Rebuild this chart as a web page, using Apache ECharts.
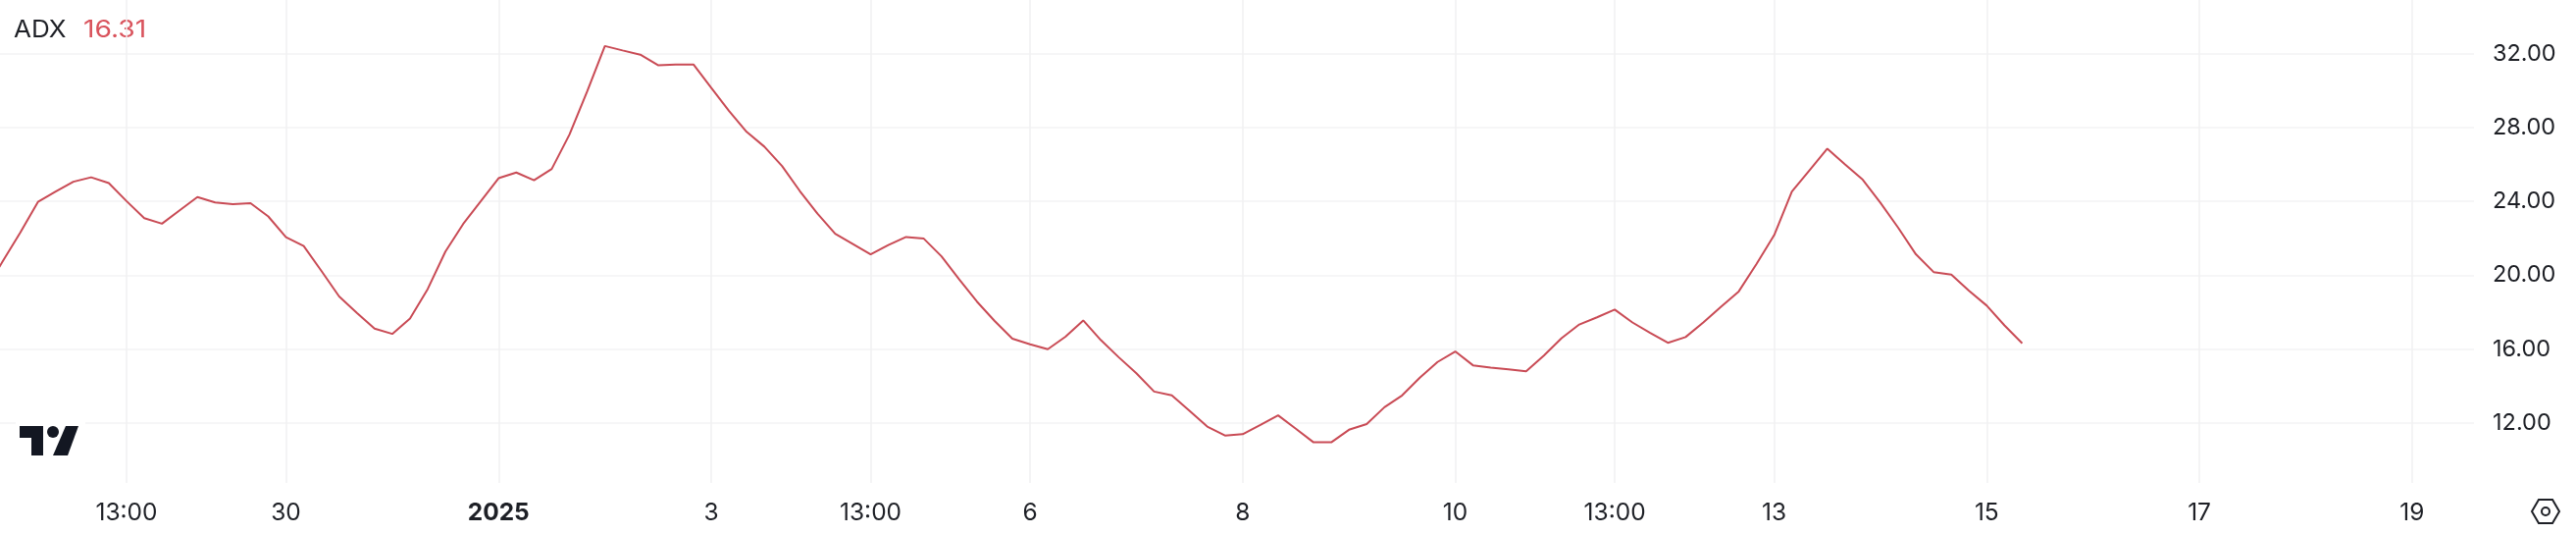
<!DOCTYPE html>
<html>
<head>
<meta charset="utf-8">
<style>html,body{margin:0;padding:0;background:#fff}#c{width:2626px;height:544px}</style>
<script src="https://cdn.jsdelivr.net/npm/echarts@6/dist/echarts.min.js"></script>
</head>
<body>
<div id="c"></div>
<script>
const adxValues = [19.16,20.73,22.30,23.97,24.53,25.06,25.30,24.99,24.01,23.09,22.79,23.51,24.23,23.94,23.85,23.90,23.18,22.06,21.58,20.23,18.85,17.96,17.11,16.82,17.65,19.25,21.28,22.77,24.01,25.25,25.56,25.14,25.75,27.61,29.95,32.41,32.17,31.94,31.37,31.41,31.41,30.15,28.90,27.76,26.96,25.91,24.56,23.33,22.24,21.69,21.13,21.63,22.07,21.98,21.02,19.77,18.57,17.52,16.56,16.26,15.99,16.67,17.55,16.48,15.56,14.69,13.70,13.49,12.66,11.80,11.32,11.39,11.89,12.41,11.69,10.95,10.95,11.63,11.94,12.85,13.49,14.45,15.30,15.87,15.12,14.99,14.90,14.79,15.65,16.59,17.33,17.72,18.14,17.44,16.87,16.34,16.65,17.44,18.29,19.12,20.60,22.17,24.53,25.69,26.85,26.00,25.17,23.92,22.57,21.13,20.17,20.03,19.16,18.35,17.28,16.31];
const timeTickIndex = [8,17,29,41,50,59,71,83,92,101,113,125,137];
const timeTickLabels = ['13:00','30','2025','3','13:00','6','8','10','13:00','13','15','17','19'];
const priceTicks = [12,16,20,24,28,32];
const seriesName = 'ADX';
const lastValue = '16.31';

const chart = echarts.init(document.getElementById('c'), null, {renderer:'canvas'});
const font = 'Inter, "Liberation Sans", sans-serif';
const ink = '#1e2026';
chart.setOption({
  animation:false,
  backgroundColor:'#ffffff',
  grid:{left:0,top:0,width:2522,height:492,containLabel:false},
  xAxis:{
    type:'value',min:0.858,max:140.5,
    axisLine:{show:false},
    axisTick:{show:false,customValues:timeTickIndex},
    splitLine:{show:true,lineStyle:{color:'#f0f0f2',width:1.5}},
    axisLabel:{
      customValues:timeTickIndex,margin:18,fontFamily:font,fontSize:24.5,color:ink,
      formatter:v=>{const l=timeTickLabels[timeTickIndex.indexOf(v)]||'';return l==='2025'?'{b|'+l+'}':l;},
      rich:{b:{fontWeight:'bold',fontFamily:font,fontSize:24.5,color:ink}}
    }
  },
  yAxis:{
    type:'value',position:'right',min:8.75,max:34.9,
    axisLine:{show:false},
    axisTick:{show:false,customValues:priceTicks},
    splitLine:{show:true,lineStyle:{color:'#f3f3f4',width:1.5}},
    axisLabel:{customValues:priceTicks,margin:19,fontFamily:font,fontSize:23.5,color:ink,padding:[3,0,0,0],
      formatter:v=>v.toFixed(2)}
  },
  series:[{
    type:'line',name:seriesName,showSymbol:false,smooth:false,
    lineStyle:{color:'#c94b55',width:2},
    data:adxValues.map((v,i)=>[i,v]),z:3
  }],
  graphic:[
    {type:'text',x:14,y:19,scaleX:1.085,style:{text:seriesName,font:'24px '+font,fill:ink}},
    {type:'text',x:85,y:19,scaleX:1.175,style:{text:lastValue,font:'24px '+font,fill:'#d9535c'}},
    {type:'rect',shape:{x:16,y:426,width:71,height:42},style:{fill:'#fff'},z:5},
    {type:'polygon',shape:{points:[[20,434],[44,434],[44,464],[32,464],[32,446],[20,446]]},style:{fill:'#131722'},z:6},
    {type:'circle',shape:{cx:54,cy:440,r:6},style:{fill:'#131722'},z:6},
    {type:'polygon',shape:{points:[[67,434],[80,434],[69,464],[54,464]]},style:{fill:'#131722'},z:6},
    {type:'polygon',shape:{points:[[2581,521],[2588,509],[2602,509],[2609,521],[2602,533],[2588,533]]},style:{fill:'none',stroke:ink,lineWidth:2},z:6},
    {type:'circle',shape:{cx:2595,cy:521,r:4},style:{fill:'none',stroke:ink,lineWidth:2},z:6}
  ]
});
</script>
</body>
</html>
